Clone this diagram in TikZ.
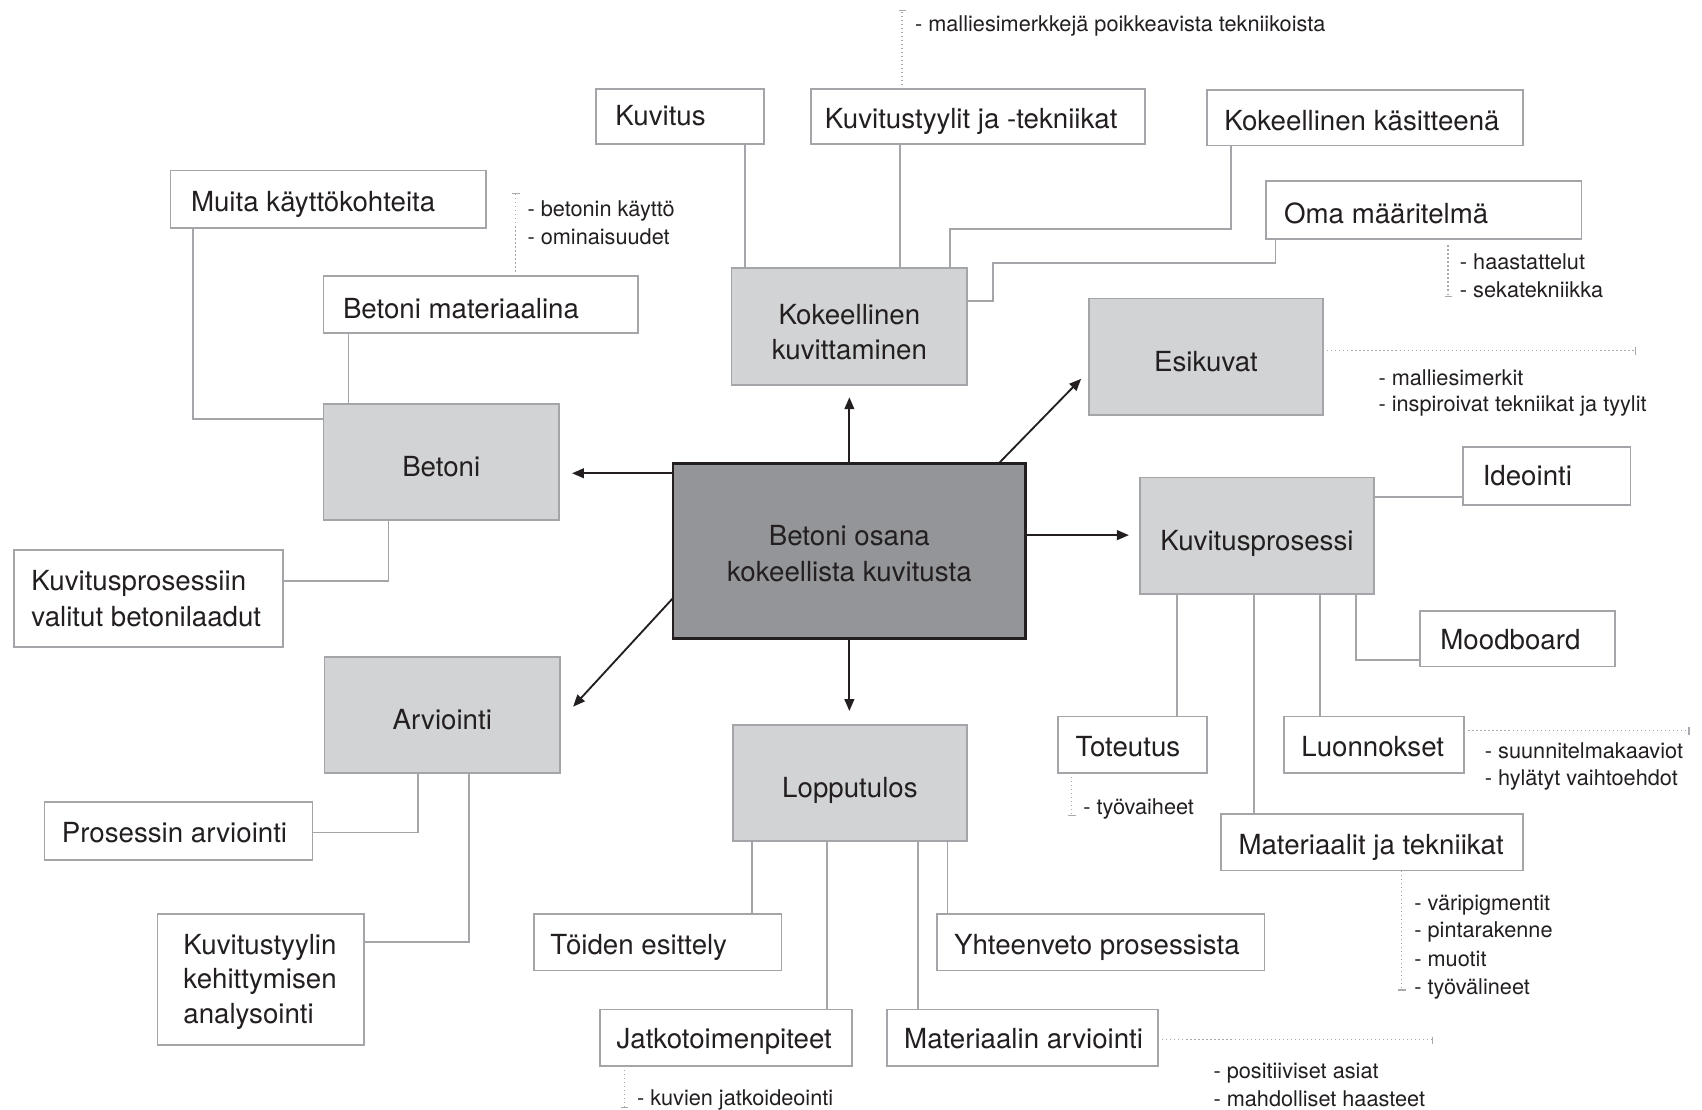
\documentclass[tikz,border=0pt]{standalone}
\usepackage{fontspec}
\setmainfont{TeX Gyre Heros}
\usetikzlibrary{arrows.meta,calc}
\definecolor{txt}{HTML}{231F20}
\definecolor{bord}{HTML}{A3A5A8}
\definecolor{gfill}{HTML}{D1D3D4}
\definecolor{cfill}{HTML}{939598}
\definecolor{dotc}{HTML}{A7A9AC}
\tikzset{
  lbox/.style={draw=bord, fill=white, line width=1.6pt, rectangle, inner sep=0pt, outer sep=0pt},
  gbox/.style={draw=bord, fill=gfill, line width=1.6pt, rectangle, inner sep=0pt, outer sep=0pt},
  cbox/.style={draw=txt, fill=cfill, line width=2.4pt, rectangle, inner sep=0pt, outer sep=0pt},
  big/.style={text=txt, font=\fontsize{25.5}{33}\selectfont, inner sep=0pt, outer sep=0pt},
  small/.style={text=txt, font=\fontsize{20}{25}\selectfont, inner sep=0pt, outer sep=0pt, anchor=base west},
  con/.style={draw=bord, line width=1.6pt},
  arr/.style={draw=txt, line width=1.7pt, -{Triangle[length=11pt,width=9pt]}},
  dotl/.style={draw=dotc, line width=1.1pt, dash pattern=on 1.1pt off 2.6pt},
  tick/.style={draw=dotc, line width=1.1pt}
}
\newcommand\bx[5]{\node[#1, minimum width=#4, minimum height=#5] (#2) at (#3) {};}
\begin{document}
\begin{tikzpicture}[x=1pt,y=-1pt]
\useasboundingbox (0,0) rectangle (1568,1022);
% ---------- boxes ----------
\bx{lbox}{kuvitus}{626.5,107.5}{155}{51}
\bx{lbox}{kts}{901,107.5}{308}{51}
\bx{lbox}{kkas}{1257.5,108.5}{291}{51}
\bx{lbox}{oma}{1311.5,193.5}{291}{53}
\bx{lbox}{muita}{302.5,183.5}{291}{53}
\bx{lbox}{bmat}{443,280.5}{290}{53}
\bx{lbox}{kvb}{137,551.5}{248}{89}
\bx{lbox}{parv}{164.5,765.5}{247}{53}
\bx{lbox}{kta}{240,902.5}{190}{121}
\bx{lbox}{toid}{606,868}{228}{52}
\bx{lbox}{yht}{1014,868}{302}{52}
\bx{lbox}{jatko}{669,956}{232}{52}
\bx{lbox}{marv}{942,956}{250}{52}
\bx{lbox}{ide}{1425,438.5}{154}{53}
\bx{lbox}{mood}{1398,588.5}{180}{51}
\bx{lbox}{tot}{1043.5,686}{137}{52}
\bx{lbox}{luo}{1266,686}{166}{52}
\bx{lbox}{mat}{1264,776}{278}{52}
\bx{gbox}{kkuv}{782.5,301}{217}{108}
\bx{gbox}{esik}{1111,328.5}{216}{107}
\bx{gbox}{betoni}{406.5,425.5}{217}{107}
\bx{gbox}{kp}{1158,493.5}{216}{107}
\bx{gbox}{arv}{407.5,658.5}{217}{107}
\bx{gbox}{lop}{783,721.5}{216}{107}
\bx{cbox}{center}{782.5,507.5}{325}{161}
% ---------- texts ----------
\node[big, anchor=base west] (t1) at (567,116) {Kuvitus};
\node[big, anchor=base west] (t2) at (760,118) {Kuvitustyylit ja -tekniikat};
\node[big, anchor=base west] (t3) at (1128,120) {Kokeellinen käsitteenä};
\node[big, anchor=base west] (t4) at (1183,206) {Oma määritelmä};
\node[big, anchor=base west] (t5) at (176,195) {Muita käyttökohteita};
\node[big, anchor=base west] (t6) at (316,293) {Betoni materiaalina};
\node[big, anchor=base west] (t7a) at (29,544) {Kuvitusprosessiin};
\node[big, anchor=base west] (t7b) at (29,577) {valitut betonilaadut};
\node[big, anchor=base west] (t8) at (57,776) {Prosessin arviointi};
\node[big, anchor=base west] (t9a) at (169,879) {Kuvitustyylin};
\node[big, anchor=base west] (t9b) at (169,911) {kehittymisen};
\node[big, anchor=base west] (t9c) at (169,943) {analysointi};
\node[big, anchor=base west] (t10) at (507,879) {Töiden esittely};
\node[big, anchor=base west] (t11) at (879,879) {Yhteenveto prosessista};
\node[big, anchor=base west] (t12) at (568,966) {Jatkotoimenpiteet};
\node[big, anchor=base west] (t13) at (833,966) {Materiaalin arviointi};
\node[big, anchor=base west] (t14) at (1366,447) {Ideointi};
\node[big, anchor=base west] (t15) at (1327,598) {Moodboard};
\node[big, anchor=base west] (t16) at (991,697) {Toteutus};
\node[big, anchor=base west] (t17) at (1199,697) {Luonnokset};
\node[big, anchor=base west] (t18) at (1141,787) {Materiaalit ja tekniikat};
\node[big, anchor=base] (g1a) at (782.5,299) {Kokeellinen};
\node[big, anchor=base] (g1b) at (782.5,331) {kuvittaminen};
\node[big, anchor=base] (g2) at (1111,342) {Esikuvat};
\node[big, anchor=base] (g3) at (406.5,439) {Betoni};
\node[big, anchor=base] (g4) at (1158,507) {Kuvitusprosessi};
\node[big, anchor=base] (g5) at (407.5,672) {Arviointi};
\node[big, anchor=base] (g6) at (783,735) {Lopputulos};
\node[big, anchor=base] (c1) at (782.5,503) {Betoni osana};
\node[big, anchor=base] (c2) at (782.5,536) {kokeellista kuvitusta};
% ---------- annotations ----------
\node[small] (a1) at (843,29) {- malliesimerkkejä poikkeavista tekniikoista};
\node[small] (a2) at (486,199) {- betonin käyttö};
\node[small] (a3) at (486,225) {- ominaisuudet};
\node[small] (a4) at (1345,248) {- haastattelut};
\node[small] (a5) at (1345,274) {- sekatekniikka};
\node[small] (a6) at (1270,355) {- malliesimerkit};
\node[small] (a7) at (1270,379) {- inspiroivat tekniikat ja tyylit};
\node[small] (a8) at (1368,699) {- suunnitelmakaaviot};
\node[small] (a9) at (1368,724) {- hylätyt vaihtoehdot};
\node[small] (a10) at (998,750) {- työvaiheet};
\node[small] (a11) at (1303,839) {- väripigmentit};
\node[small] (a12) at (1303,864) {- pintarakenne};
\node[small] (a13) at (1303,890) {- muotit};
\node[small] (a14) at (1303,916) {- työvälineet};
\node[small] (a15) at (1118,994) {- positiiviset asiat};
\node[small] (a16) at (1118,1019) {- mahdolliset haasteet};
\node[small] (a17) at (587,1018) {- kuvien jatkoideointi};
% ---------- connectors ----------
\draw[con] (kuvitus.south -| 686,0) -- (kkuv.north -| 686,0);
\draw[con] (kts.south -| 829,0) -- (kkuv.north -| 829,0);
\draw[con] (kkas.south -| 1134,0) |- (875,211) -- (kkuv.north -| 875,0);
\draw[con] (oma.south -| 1175,0) |- (915,242) |- (kkuv.east |- 0,277);
\draw[con] (muita.south -| 178,0) |- (betoni.west |- 0,386);
\draw[con] (bmat.south -| 321,0) -- (betoni.north -| 321,0);
\draw[con] (betoni.south -| 358,0) |- (kvb.east |- 0,535);
\draw[con] (arv.south -| 385,0) |- (parv.east |- 0,767);
\draw[con] (arv.south -| 432,0) |- (kta.east |- 0,868);
\draw[con] (lop.south -| 693,0) -- (toid.north -| 693,0);
\draw[con] (lop.south -| 762,0) -- (jatko.north -| 762,0);
\draw[con] (lop.south -| 846,0) -- (marv.north -| 846,0);
\draw[con] (lop.south -| 873,0) -- (yht.north -| 873,0);
\draw[con] (kp.east |- 0,458) -- (ide.west |- 0,458);
\draw[con] (kp.south -| 1249,0) |- (mood.west |- 0,608);
\draw[con] (kp.south -| 1084,0) -- (tot.north -| 1084,0);
\draw[con] (kp.south -| 1155,0) -- (mat.north -| 1155,0);
\draw[con] (kp.south -| 1216,0) -- (luo.north -| 1216,0);
% ---------- arrows ----------
\coordinate (aU) at (782.5,366);
\coordinate (aL) at (527,436);
\coordinate (aR) at (1040,493);
\coordinate (aD) at (782.5,655);
\coordinate (aNE) at (996,349);
\coordinate (aSW) at (528,651);
\draw[arr] (center.north) -- (aU);
\draw[arr] (center.west |- aL) -- (aL);
\draw[arr] (center.east |- aR) -- (aR);
\draw[arr] (center.south) -- (aD);
\draw[arr] (center.north -| 920,0) -- (aNE);
\draw[arr] (center.west |- 0,551) -- (aSW);
% ---------- dotted annotation leaders ----------
\coordinate (d1) at (831,10);
\draw[dotl] (kts.north -| d1) -- (d1);
\draw[tick] ($(d1)+(-3,0)$) -- ($(d1)+(4,0)$);
\coordinate (d2) at (475,178);
\draw[dotl] (bmat.north -| d2) -- (d2);
\draw[tick] ($(d2)+(-3,0)$) -- ($(d2)+(4,0)$);
\coordinate (d3) at (1334,273);
\draw[dotl] ($(oma.south -| d3)+(0,6)$) -- (d3);
\draw[tick] ($(d3)+(-3,0)$) -- ($(d3)+(4,0)$);
\coordinate (d4) at (1507,323);
\draw[dotl] (esik.east |- d4) -- (d4);
\draw[tick] ($(d4)+(0,-3)$) -- ($(d4)+(0,4)$);
\coordinate (d5) at (1556,673);
\draw[dotl] (luo.east |- d5) -- (d5);
\draw[tick] ($(d5)+(0,-3)$) -- ($(d5)+(0,4)$);
\coordinate (d6) at (987,751);
\draw[dotl] (tot.south -| d6) -- (d6);
\draw[tick] ($(d6)+(-3,0)$) -- ($(d6)+(4,0)$);
\coordinate (d7) at (1291,912);
\draw[dotl] (mat.south -| d7) -- (d7);
\draw[tick] ($(d7)+(-3,0)$) -- ($(d7)+(4,0)$);
\coordinate (d8) at (1320,958);
\draw[dotl] (marv.east |- d8) -- (d8);
\draw[tick] ($(d8)+(0,-3)$) -- ($(d8)+(0,4)$);
\coordinate (d9) at (575,1020);
\draw[dotl] (jatko.south -| d9) -- (d9);
\draw[tick] ($(d9)+(-3,0)$) -- ($(d9)+(4,0)$);
\end{tikzpicture}
\end{document}
